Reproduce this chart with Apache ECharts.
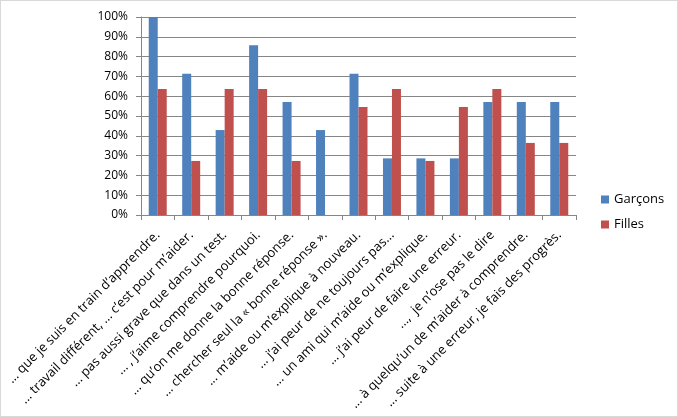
<!DOCTYPE html>
<html>
<head>
<meta charset="utf-8">
<script src="https://cdn.jsdelivr.net/npm/echarts@6/dist/echarts.min.js"></script>
<style type="text/css">
    html, body { margin: 0; padding: 0; background: #fff; }
    #chart {
        width: 676px;
        height: 415px;
        border: 1px solid #d9d9d9;
    }
</style>
</head>
<body>
<div id="chart"></div>
<script>
    var categories = [
        '... que je suis en train d\u2019apprendre.',
        '... travail différent, ... c\u2019est pour m\u2019aider.',
        '... pas aussi grave que dans un test.',
        '... , j\u2019aime comprendre pourquoi.',
        '... qu\u2019on me donne la bonne réponse.',
        '... chercher seul la « bonne réponse ».',
        '... m\u2019aide ou m\u2019explique à nouveau.',
        '... j\u2019ai peur de ne toujours pas...',
        '... un ami qui m\u2019aide ou m\u2019explique.',
        '... j\u2019ai peur de faire une erreur.',
        '...,  je n\u2019ose pas le dire',
        '... à quelqu\u2019un de m\u2019aider à comprendre.',
        '... suite à une erreur, je fais des progrès.'
    ];
    var garcons = [100, 71.4, 42.9, 85.7, 57.1, 42.9, 71.4, 28.6, 28.6, 28.6, 57.1, 57.1, 57.1];
    var filles = [63.6, 27.3, 63.6, 63.6, 27.3, 0, 54.5, 63.6, 27.3, 54.5, 63.6, 36.4, 36.4];

    var myFont = '"Open Sans", "DejaVu Sans", sans-serif';
    var chart = echarts.init(document.getElementById('chart'));

    var option = {
        animation: false,
        textStyle: { fontFamily: myFont },
        grid: { left: 140, right: 101, top: 16, bottom: 201, containLabel: false, outerBoundsMode: 'none' },
        legend: {
            orient: 'vertical',
            left: 595,
            top: 187,
            itemWidth: 8,
            itemHeight: 8,
            itemGap: 12,
            icon: 'rect',
            textStyle: { fontSize: 13, color: '#000', fontFamily: myFont },
            data: ['Garçons', 'Filles']
        },
        xAxis: {
            type: 'category',
            data: categories,
            axisLine: { lineStyle: { color: '#868686' } },
            axisTick: { show: true, alignWithLabel: false, lineStyle: { color: '#868686' } },
            axisLabel: {
                interval: 0,
                rotate: 45,
                fontSize: 13,
                color: '#000',
                margin: 18,
                fontFamily: myFont
            }
        },
        yAxis: {
            type: 'value',
            min: 0,
            max: 100,
            interval: 10,
            axisLine: { show: true, lineStyle: { color: '#868686' } },
            axisTick: { show: true, lineStyle: { color: '#868686' } },
            splitLine: { lineStyle: { color: '#868686' } },
            axisLabel: {
                formatter: '{value}%',
                fontSize: 12,
                color: '#000',
                margin: 13,
                fontFamily: myFont
            }
        },
        series: [
            {
                name: 'Garçons',
                type: 'bar',
                data: garcons,
                barWidth: 9,
                barGap: '0%',
                itemStyle: { color: '#4F81BD' }
            },
            {
                name: 'Filles',
                type: 'bar',
                data: filles,
                barWidth: 9,
                itemStyle: { color: '#C0504D' }
            }
        ]
    };
    chart.setOption(option);
</script>
</body>
</html>
